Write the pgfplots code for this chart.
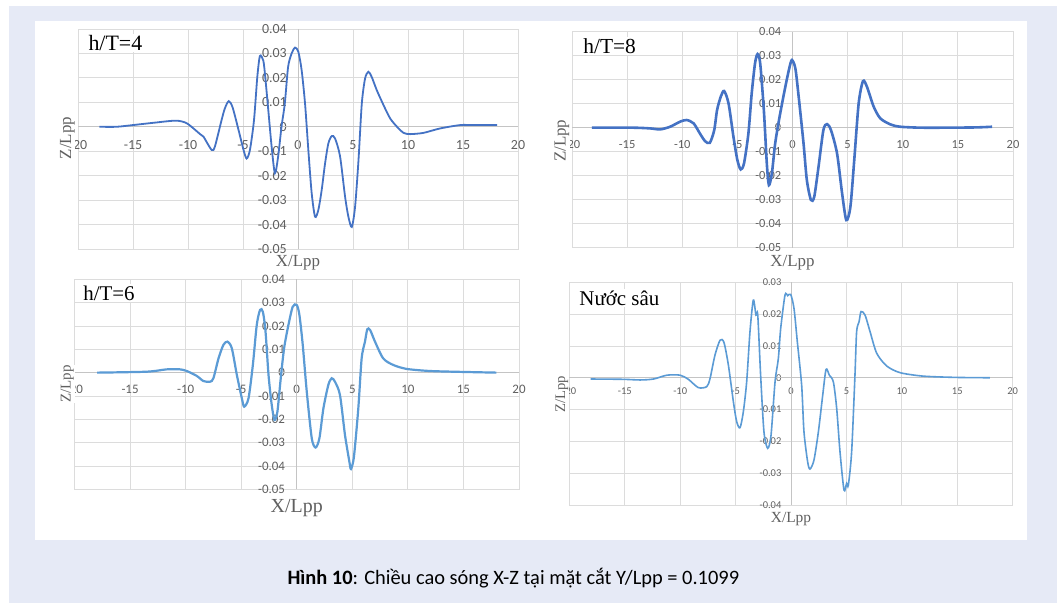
\documentclass[border=0pt]{standalone}
\usepackage{pgfplots}
\usepackage{pgfplotstable}
\pgfplotsset{compat=1.18}
\usepackage{fontspec}
\setmainfont{Liberation Serif}
\newfontfamily\calibri{Carlito}

\definecolor{pagebg}{RGB}{230,234,246}
\definecolor{xlblue}{RGB}{68,114,196}
\definecolor{xllight}{RGB}{91,155,213}
\definecolor{gridc}{RGB}{220,220,220}
\definecolor{zeroc}{RGB}{196,196,196}
\definecolor{labc}{RGB}{96,96,96}

% Wave elevation Z/Lpp along X/Lpp at Y/Lpp = 0.1099
\pgfplotstableread{
x z
-18.05 0
-16.5 0
-15.0 0.0007
-13.0 0.0017
-11.1 0.0025
-10.1 0.0014
-8.9 -0.0030
-8.6 -0.0040
-7.85 -0.0095
-7.55 -0.0080
-6.95 0.0027
-6.65 0.0075
-6.3 0.0105
-5.95 0.0080
-5.4 -0.0014
-4.95 -0.0095
-4.67 -0.0130
-4.37 -0.0095
-4.0 0.0027
-3.7 0.0204
-3.46 0.0290
-3.15 0.0270
-2.97 0.0200
-2.7 0.0068
-2.4 -0.0080
-2.1 -0.0190
-1.8 -0.0120
-1.5 0.0000
-1.2 0.0095
-0.9 0.0245
-0.58 0.0300
-0.27 0.0324
0.03 0.0307
0.33 0.0232
0.64 0.0095
0.94 -0.0095
1.24 -0.0270
1.55 -0.0368
1.85 -0.0340
2.15 -0.0260
2.46 -0.0150
2.76 -0.0068
3.07 -0.0038
3.37 -0.0048
3.82 -0.0120
4.28 -0.0286
4.58 -0.0368
4.89 -0.0410
5.19 -0.0327
5.5 -0.0136
5.8 0.0095
6.1 0.0198
6.4 0.0225
6.7 0.0204
7.16 0.0150
7.77 0.0089
8.38 0.0034
9.0 0.0000
9.6 -0.0025
10.2 -0.0030
11.4 -0.0025
12.9 -0.0007
14.75 0.0007
15.96 0.0007
18.1 0.0007
}\depthfour

\pgfplotstableread{
x z
-18.2 0
-14.4 0
-12.9 -0.0003
-12.0 -0.0007
-11.1 0.0004
-10.2 0.0025
-9.6 0.0032
-8.97 0.0018
-8.4 -0.0024
-7.93 -0.0056
-7.5 -0.0063
-7.1 -0.0010
-6.84 0.0074
-6.5 0.0130
-6.2 0.0153
-5.8 0.0101
-5.36 -0.0037
-5.0 -0.0135
-4.7 -0.0174
-4.4 -0.0149
-4.0 -0.0024
-3.7 0.0143
-3.4 0.0268
-3.17 0.0307
-2.93 0.0268
-2.6 0.0074
-2.33 -0.0149
-2.14 -0.0239
-1.87 -0.0190
-1.57 -0.0065
-1.17 0.0046
-0.65 0.0171
-0.26 0.0254
-0.05 0.0282
0.26 0.0247
0.56 0.0129
1.0 -0.0065
1.3 -0.0218
1.67 -0.0301
1.97 -0.0288
2.36 -0.0163
2.8 -0.0010
3.13 0.0015
3.49 -0.0010
4.04 -0.0107
4.5 -0.0274
4.88 -0.0385
5.25 -0.0330
5.6 -0.0135
6.0 0.0101
6.39 0.0194
6.75 0.0171
7.36 0.0088
7.96 0.0039
8.87 0.0014
9.78 0.0004
11.9 0
16.4 0.0001
18.1 0.0004
}\deptheight

\pgfplotstableread{
x z
-17.96 0
-13.5 0.0004
-11.7 0.0014
-10.5 0.0014
-9.9 0.0007
-9.0 -0.0014
-8.4 -0.0036
-7.8 -0.0039
-7.5 -0.0024
-7.04 0.0061
-6.6 0.0119
-6.23 0.0133
-5.84 0.0104
-5.39 -0.0010
-4.94 -0.0110
-4.73 -0.0146
-4.34 -0.0110
-3.95 0.0033
-3.6 0.0204
-3.3 0.0269
-3.05 0.0261
-2.81 0.0176
-2.54 -0.0010
-2.25 -0.0139
-2.0 -0.0203
-1.74 -0.0167
-1.44 -0.0024
-1.14 0.0104
-0.75 0.0204
-0.36 0.0283
0.0 0.0290
0.24 0.0247
0.54 0.0119
0.9 -0.0081
1.35 -0.0281
1.7 -0.0321
2.04 -0.0281
2.4 -0.0153
2.84 -0.0053
3.14 -0.0024
3.44 -0.0039
3.89 -0.0096
4.34 -0.0267
4.73 -0.0380
4.88 -0.0413
5.15 -0.0359
5.54 -0.0153
5.84 0.0061
6.14 0.0133
6.35 0.0186
6.6 0.0183
7.04 0.0133
7.78 0.0061
8.68 0.0033
9.88 0.0016
11.98 0.0007
14.97 0.0003
17.96 0
}\depthsix

\pgfplotstableread{
x z
-18.08 -0.0004
-15.1 -0.0005
-13.6 -0.0007
-12.4 -0.0004
-11.2 0.0008
-10.0 0.0008
-9.26 -0.0005
-8.36 -0.0031
-7.6 -0.0028
-7.3 -0.0002
-6.86 0.0071
-6.4 0.0118
-6.05 0.0111
-5.65 0.0040
-5.2 -0.0075
-4.9 -0.0138
-4.6 -0.0157
-4.3 -0.0107
-4.0 -0.0013
-3.7 0.0145
-3.4 0.0244
-3.16 0.0197
-3.0 0.0197
-2.74 0.0008
-2.44 -0.0170
-2.1 -0.0222
-1.8 -0.0180
-1.44 -0.0013
-1.14 0.0061
-0.93 0.0155
-0.54 0.0260
-0.3 0.0258
-0.03 0.0262
0.27 0.0218
0.57 0.0113
0.96 -0.0023
1.17 -0.0170
1.5 -0.0264
1.71 -0.0287
2.07 -0.0259
2.47 -0.0170
2.86 -0.0055
3.16 0.0026
3.46 0.0008
3.82 -0.0013
4.12 -0.0096
4.42 -0.0233
4.78 -0.0353
5.02 -0.0332
5.17 -0.0338
5.47 -0.0233
5.77 0.0008
5.92 0.0145
6.14 0.0176
6.32 0.0208
6.68 0.0197
7.13 0.0145
7.73 0.0077
8.63 0.0037
9.83 0.0016
11.94 0.0005
14.95 0.0001
17.95 0
}\deepwater

\tikzset{panel title/.style={anchor=west, fill=white, inner sep=1.5bp, text=black}}

\pgfplotsset{
  wave/.style={
    scale only axis,
    clip=false,
    xmin=-20, xmax=20,
    xtick={-20,-15,-10,-5,0,5,10,15,20},
    xticklabels={-20,-15,-10,-5,0,5,10,15,20},
    scaled x ticks=false, scaled y ticks=false,
    grid=major,
    major grid style={draw=gridc, line width=0.8bp},
    axis line style={draw=gridc, line width=0.8bp},
    major tick length=0pt,
    every tick/.style={draw=none},
    tick label style={text=labc, inner sep=0pt},
    xticklabel style={anchor=center},
    yticklabel style={anchor=east},
    extra x ticks={0}, extra y ticks={0},
    extra x tick labels={}, extra y tick labels={},
    extra tick style={grid=major, major grid style={draw=zeroc, line width=1bp}},
    xlabel={X/Lpp}, ylabel={Z/Lpp},
    label style={text=labc},
    xlabel style={anchor=center, inner sep=0pt},
    ylabel style={anchor=center, fill=white, inner sep=0.6bp},
  },
  ylarge/.style={
    ymin=-0.05, ymax=0.04,
    ytick={-0.05,-0.04,-0.03,-0.02,-0.01,0,0.01,0.02,0.03,0.04},
    yticklabels={-0.05,-0.04,-0.03,-0.02,-0.01,0,0.01,0.02,0.03,0.04},
  },
}

\begin{document}
\begin{tikzpicture}
\path[use as bounding box] (0,0) rectangle (1057bp,603bp);
\fill[white] (0,0) rectangle (1057bp,603bp);
\fill[pagebg] (9bp,0) rectangle (1057bp,597bp);
\fill[white] (35bp,63bp) rectangle (1027bp,582bp);

% h/T = 4
\begin{axis}[wave, ylarge,
  at={(78bp,354bp)}, anchor=south west,
  width=440bp, height=220bp,
  tick label style={font=\calibri\fontsize{14}{14}\selectfont},
  xticklabel style={yshift=103.9bp},
  yticklabel style={xshift=209bp},
  label style={font=\fontsize{17}{17}\selectfont},
  xlabel style={at={(axis description cs:0.5,-0.064)}},
  ylabel style={at={(axis description cs:-0.024,0.505)}},
]
\addplot[xlblue, line width=1.8bp, smooth, tension=0.45] table {\depthfour};
\node[panel title, font=\fontsize{22}{22}\selectfont] at (rel axis cs:0.02,0.936) {h/T=4};
\end{axis}

% h/T = 8
\begin{axis}[wave, ylarge,
  at={(572bp,355.3bp)}, anchor=south west,
  width=441bp, height=216bp,
  tick label style={font=\calibri\fontsize{12.5}{12.5}\selectfont},
  xticklabel style={yshift=103.3bp},
  yticklabel style={xshift=209.5bp},
  label style={font=\fontsize{17}{17}\selectfont},
  xlabel style={at={(axis description cs:0.5,-0.07)}},
  ylabel style={at={(axis description cs:-0.023,0.495)}},
]
\addplot[xlblue, line width=2.6bp, smooth, tension=0.45] table {\deptheight};
\node[panel title, font=\fontsize{21.5}{21.5}\selectfont] at (rel axis cs:0.022,0.934) {h/T=8};
\end{axis}

% h/T = 6
\begin{axis}[wave, ylarge,
  at={(74.5bp,113.7bp)}, anchor=south west,
  width=444.5bp, height=210bp,
  tick label style={font=\calibri\fontsize{13}{13}\selectfont},
  xticklabel style={yshift=100.4bp},
  yticklabel style={xshift=210.75bp},
  label style={font=\fontsize{20}{20}\selectfont},
  xlabel style={at={(axis description cs:0.5,-0.088)}},
  ylabel style={at={(axis description cs:-0.016,0.501)}, font=\fontsize{15}{15}\selectfont},
]
\addplot[xllight, line width=2.2bp, smooth, tension=0.45] table {\depthsix};
\node[panel title, font=\fontsize{21}{21}\selectfont] at (rel axis cs:0.016,0.935) {h/T=6};
\end{axis}

% deep water
\begin{axis}[wave,
  ymin=-0.04, ymax=0.03,
  ytick={-0.04,-0.03,-0.02,-0.01,0,0.01,0.02,0.03},
  yticklabels={-0.04,-0.03,-0.02,-0.01,0,0.01,0.02,0.03},
  at={(569.3bp,98bp)}, anchor=south west,
  width=443.4bp, height=222.7bp,
  tick label style={font=\calibri\fontsize{10.5}{10.5}\selectfont},
  xticklabel style={yshift=114bp},
  yticklabel style={xshift=212.2bp},
  label style={font=\fontsize{15.5}{15.5}\selectfont},
  xlabel style={at={(axis description cs:0.5,-0.062)}},
  ylabel style={at={(axis description cs:-0.017,0.498)}, font=\fontsize{14.7}{14.7}\selectfont},
]
\addplot[xllight, line width=1.6bp, smooth, tension=0.45] table {\deepwater};
\node[panel title, font=\fontsize{21}{21}\selectfont] at (rel axis cs:0.019,0.93) {Nước sâu};
\end{axis}

\node[anchor=base west, inner sep=0pt, text=black, font=\calibri\fontsize{20.5}{20.5}\selectfont]
  at (287.3bp,18.7bp) {\textbf{Hình 10}: Chiều cao sóng X-Z tại mặt cắt Y/Lpp = 0.1099};
\end{tikzpicture}
\end{document}
